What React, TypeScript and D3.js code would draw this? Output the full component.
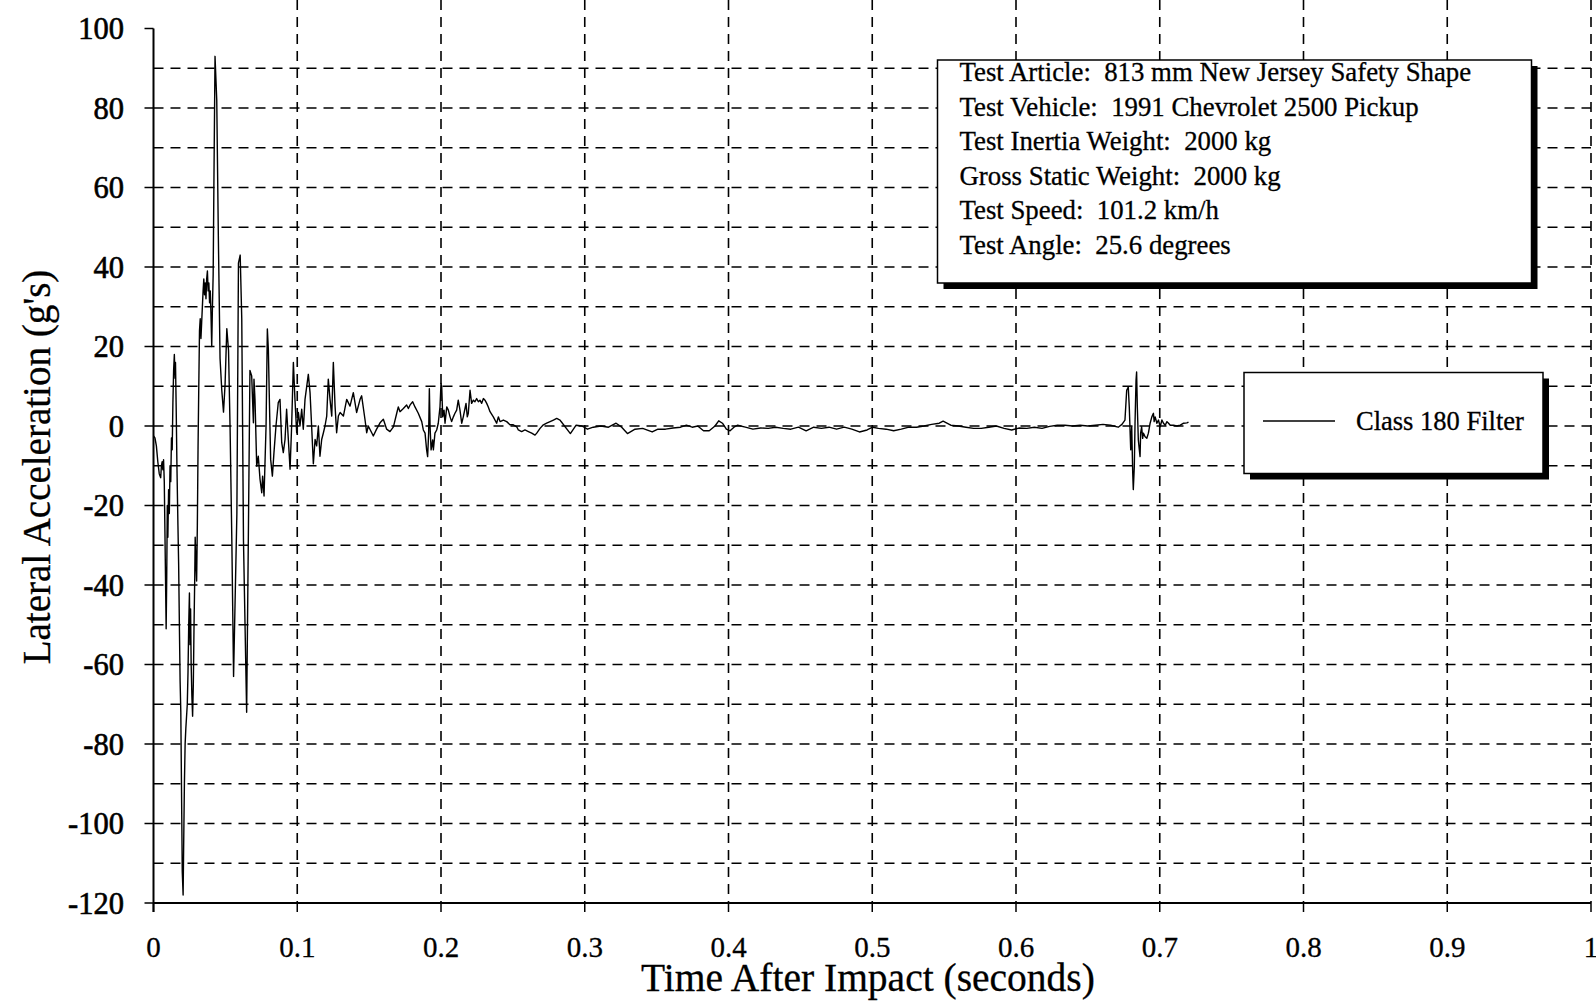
import React from "react";
import * as d3 from "d3";

// ---------- data (time in s, lateral acceleration in g) ----------
const impactPhase: [number, number][] = [
  [0, -2.5], [0.001, -3], [0.002, -5], [0.003, -9], [0.004, -12], [0.005, -13], [0.0055, -10], [0.006, -9],
  [0.0065, -11], [0.007, -8.5], [0.0075, -14], [0.008, -28], [0.0088, -51], [0.0092, -38], [0.0096, -20],
  [0.01, -28], [0.0105, -16], [0.011, -22], [0.0115, -10], [0.012, -14], [0.0125, -3], [0.013, -6],
  [0.0135, 6], [0.014, 14], [0.0145, 18], [0.015, 12], [0.0153, 16], [0.0158, 4], [0.0163, -10],
  [0.017, -25], [0.0175, -35], [0.018, -50], [0.0185, -64], [0.019, -72], [0.0195, -92], [0.02, -112],
  [0.0206, -118], [0.021, -105], [0.0215, -90], [0.022, -80], [0.0225, -76], [0.023, -73], [0.0235, -70],
  [0.024, -62], [0.0245, -50], [0.025, -42], [0.0254, -55], [0.0258, -46], [0.0262, -60], [0.0267, -68],
  [0.0272, -73], [0.0277, -65], [0.0282, -50], [0.0287, -38], [0.029, -28], [0.0295, -34], [0.03, -39],
  [0.0305, -25], [0.031, -5], [0.0315, 10], [0.032, 24], [0.0325, 27], [0.033, 22], [0.0335, 26],
  [0.034, 30], [0.0345, 34], [0.035, 37], [0.0355, 33], [0.036, 36], [0.0365, 32], [0.037, 37],
  [0.0375, 39], [0.038, 34], [0.0385, 36], [0.039, 31], [0.0395, 34], [0.04, 28], [0.0405, 20],
  [0.041, 30], [0.0415, 38], [0.042, 60], [0.0428, 93], [0.044, 82], [0.0451, 48], [0.0463, 17],
  [0.0475, 9], [0.0487, 3.5], [0.0498, 10.5], [0.051, 24.5], [0.0522, 19], [0.0533, -1], [0.0545, -29],
  [0.0557, -63], [0.058, -22], [0.0591, 41], [0.0603, 43], [0.0614, 27], [0.0626, -29], [0.0648, -72],
  [0.0671, 14],
];

const reboundPhase: [number, number][] = [
  [0.0683, 12.6], [0.0695, 0.8], [0.0699, 11.8], [0.0706, 6.7], [0.0718, -10.1], [0.0729, -7.6],
  [0.0741, -13.4], [0.0753, -16.8], [0.0759, -12.6], [0.0769, -17.6], [0.0783, 0], [0.0792, 24.4],
  [0.0799, 19.3], [0.0806, 6.7], [0.0815, -8.4], [0.0827, -12.6], [0.0838, -6.7], [0.0852, 0],
  [0.0868, 5.9], [0.088, 6.7], [0.0892, -4.2], [0.0903, -6.7], [0.0915, -3.4], [0.0926, 4.2],
  [0.0938, -3.4], [0.095, -10.9], [0.0961, 0], [0.0973, 16], [0.0984, 6.7], [0.0996, -1.7],
  [0.1008, 3.4], [0.1019, 0], [0.1031, 4.2], [0.1042, -0.8], [0.1054, 6.7], [0.1077, 13],
  [0.1089, 8.4], [0.11, 0], [0.1112, -9.5], [0.1124, -3.4], [0.1135, -5], [0.1147, 0], [0.1158, -7.6],
  [0.117, -3.4], [0.1182, -1.7], [0.1193, 0], [0.1205, 2.5], [0.1216, 11.8], [0.1228, 6.7],
  [0.124, 2.5], [0.1251, 16], [0.1263, 5], [0.1274, -1.7], [0.1286, 2.5], [0.1298, 3.4],
  [0.1321, 2.5], [0.1344, 6.7], [0.1367, 5], [0.139, 8.4], [0.1413, 3.4], [0.1437, 6.7],
  [0.1448, 7.6], [0.1471, 1.7], [0.1483, -1.7], [0.1494, 0], [0.1518, -1.7], [0.1529, -2.5],
  [0.1552, -0.8], [0.1576, 0.8], [0.1599, 1.7], [0.1622, -0.8],
];

const settlingPhase: [number, number][] = [
  [0.1645, -1.4], [0.1669, -0.2], [0.1692, 3.2], [0.1703, 4.8], [0.1715, 3.6], [0.1738, 4.4],
  [0.1761, 5.3], [0.1773, 4.4], [0.1785, 5.3], [0.1803, 6.1], [0.1819, 4.8], [0.1842, 3.2],
  [0.1866, 1.1], [0.1877, -1], [0.1889, -1.8], [0.19, -6], [0.1907, -7.7], [0.1914, -1.8],
  [0.1919, 9.4], [0.1924, -0.2], [0.1931, -6], [0.1935, -5.2], [0.1942, -3.5], [0.1947, -6],
  [0.1958, -1.8], [0.197, -1], [0.1981, 0.7], [0.1993, 4.8], [0.2, 10.7], [0.2005, 9.8],
  [0.2012, 2.3], [0.2021, 4], [0.2028, 0.7], [0.204, 4.8], [0.2051, 4], [0.2063, 2.3], [0.2074, 1.1],
  [0.2086, 2.3], [0.2097, 3.2], [0.2109, 4], [0.212, 6.5], [0.2132, 4], [0.2144, 0.7], [0.2155, 2.3],
  [0.2167, 4.4], [0.2174, 5.7], [0.2183, 2.3], [0.219, 3.2], [0.2202, 9], [0.2213, 5.7], [0.2225, 6.5],
  [0.2236, 6.1], [0.2248, 6.9], [0.226, 6.1], [0.2271, 6.5], [0.2283, 5.7], [0.2295, 6.9],
  [0.2306, 6.5], [0.2318, 5.7], [0.2329, 4.8], [0.2341, 3.6], [0.2364, 2.3], [0.2387, 0.7],
  [0.2399, 2.3], [0.2411, 1.1], [0.2434, 1.5], [0.2457, 1.1], [0.248, 0.3], [0.2503, 0.3],
  [0.2527, -0.2], [0.2538, -1], [0.2561, -1.4], [0.2584, -1], [0.2608, -1.4], [0.2631, -1.8],
  [0.2654, -2.3], [0.2666, -1.8], [0.2689, -0.6], [0.2712, 0.3], [0.2735, 0.7], [0.2759, 1.1],
  [0.2782, 1.5], [0.2805, 1.9], [0.2828, 1.5],
];

const quietPhase: [number, number][] = [
  [0.2834, 1.2], [0.29, -1.9], [0.294, 0.2], [0.298, 0], [0.3019, -0.8], [0.3059, -0.3], [0.3112, 0],
  [0.3165, -0.3], [0.3218, 0.7], [0.3257, -0.3], [0.3297, -1.9], [0.335, -0.8], [0.3403, -0.6],
  [0.3469, -1.5], [0.3509, -0.8], [0.3562, -0.8], [0.3614, -0.5], [0.3667, -0.3], [0.3707, 0.2],
  [0.3747, -0.3], [0.3786, 0], [0.3826, -1.2], [0.3866, -1.2], [0.3906, 0], [0.3932, 1.3],
  [0.3958, 0.7], [0.3985, -0.8], [0.4011, -1.2], [0.4038, -0.3], [0.4064, 0.2], [0.4117, -0.3],
  [0.417, -0.8], [0.4223, -0.5], [0.4276, -0.6], [0.4329, -0.3], [0.4381, -0.6], [0.4434, -0.8],
  [0.4487, -0.3], [0.454, -1.2], [0.4593, -0.3], [0.4646, -0.6], [0.4699, -0.3], [0.4752, -0.8],
  [0.4805, -0.3], [0.4858, -0.8], [0.4911, -1.5], [0.4964, -1], [0.5003, -0.3], [0.5043, -0.6],
  [0.5096, -0.8], [0.5149, -1.2], [0.5202, -0.8], [0.5255, -0.3], [0.5308, -0.3], [0.536, 0],
  [0.5413, 0.4], [0.5466, 0.7], [0.5493, 1.2], [0.5546, 0.2], [0.5599, 0], [0.5652, -0.3],
  [0.5705, -0.6], [0.5758, -0.6], [0.5811, -0.3], [0.5864, 0], [0.5917, -0.6], [0.597, -1],
  [0.6023, -0.5], [0.6075, -0.6], [0.6128, -0.3], [0.6181, -0.6], [0.6234, -0.1], [0.6287, 0.2],
  [0.634, 0.2], [0.6393, 0], [0.6446, 0.2], [0.6499, 0], [0.6552, 0.2], [0.6605, 0.4],
  [0.6658, 0.2], [0.6711, -0.3], [0.6737, 0.4],
];

const tailSlapPhase: [number, number][] = [
  [0.6758, 1.5], [0.677, 9], [0.6781, 9.8], [0.6788, 4.8], [0.6798, -6], [0.6805, -0.2],
  [0.6812, -11.8], [0.6816, -16], [0.6823, -10.2], [0.6828, 0.7], [0.6835, 11.5], [0.6839, 13.6],
  [0.6844, 4.8], [0.6851, -3.5], [0.6858, -6], [0.6863, -7.7], [0.6867, -1.8], [0.6874, -0.2],
  [0.6881, -3.1], [0.6886, -1.8], [0.6898, -2.7], [0.691, -3.1], [0.6921, -1.8], [0.6933, 0.7],
  [0.6945, 2.3], [0.6956, 3.2], [0.6961, 1.1], [0.6968, 2.3], [0.698, 0.7], [0.6991, 1.5],
  [0.7003, -0.2], [0.7015, 1.5], [0.7026, 0.7], [0.7038, 0.2], [0.705, 1.1], [0.7061, 0.7],
  [0.7073, 0.2], [0.7096, 0.2], [0.7119, 0], [0.7143, 0.2], [0.7166, 0.7], [0.7189, 0.8], [0.72, 1],
];

const xTicks = [0, 0.1, 0.2, 0.3, 0.4, 0.5, 0.6, 0.7, 0.8, 0.9, 1];
const xTickLabels = ["0", "0.1", "0.2", "0.3", "0.4", "0.5", "0.6", "0.7", "0.8", "0.9", "1"];
const yTicks = [-120, -100, -80, -60, -40, -20, 0, 20, 40, 60, 80, 100];
const yGridLines = [-110, -100, -90, -80, -70, -60, -50, -40, -30, -20, -10, 0, 10, 20, 30, 40, 50, 60, 70, 80, 90];

const infoLines = [
  "Test Article:  813 mm New Jersey Safety Shape",
  "Test Vehicle:  1991 Chevrolet 2500 Pickup",
  "Test Inertia Weight:  2000 kg",
  "Gross Static Weight:  2000 kg",
  "Test Speed:  101.2 km/h",
  "Test Angle:  25.6 degrees",
];
const seriesName = "Class 180 Filter";
const xTitle = "Time After Impact (seconds)";
const yTitle = "Lateral Acceleration (g's)";

const FONT = "'Liberation Serif', 'Times New Roman', Times, serif";

export default function App() {
  const W = 1596;
  const H = 1003;
  const x = d3.scaleLinear().domain([0, 1]).range([153.5, 1591]);
  const y = d3.scaleLinear().domain([-120, 100]).range([903, 28.5]);
  const trace = [...impactPhase, ...reboundPhase, ...settlingPhase, ...quietPhase, ...tailSlapPhase];
  const line = d3
    .line<[number, number]>()
    .x((d) => x(d[0]))
    .y((d) => y(d[1]));

  const dash = "10,7";
  const box1 = { x: 937.5, y: 60, w: 594, h: 223 };
  const box2 = { x: 1244, y: 372.5, w: 299, h: 101 };

  return (
    <svg
      width={W}
      height={H}
      style={{ position: "absolute", left: 0, top: 0, background: "#fff" }}
      fontFamily={FONT}
    >
      <rect x={0} y={0} width={W} height={H} fill="#fff" />
      {/* vertical grid */}
      {xTicks.slice(1).map((t) => (
        <line key={"vg" + t} x1={x(t)} x2={x(t)} y1={0} y2={y(-120)} stroke="#000" strokeWidth={1.6} strokeDasharray={dash} />
      ))}
      {/* horizontal grid */}
      {yGridLines.map((v) => (
        <line key={"hg" + v} x1={x(0)} x2={x(1)} y1={y(v)} y2={y(v)} stroke="#000" strokeWidth={1.6} strokeDasharray={dash} />
      ))}
      {/* axes */}
      <line x1={x(0)} x2={x(0)} y1={y(100)} y2={y(-120) + 9} stroke="#000" strokeWidth={2} />
      <line x1={x(0)} x2={x(1)} y1={y(-120)} y2={y(-120)} stroke="#000" strokeWidth={2} />
      {/* y ticks */}
      {yTicks.map((v) => (
        <line key={"yt" + v} x1={x(0) - 9} x2={x(0)} y1={y(v)} y2={y(v)} stroke="#000" strokeWidth={1.5} />
      ))}
      {yTicks.map((v) => (
        <text key={"yl" + v} x={124} y={y(v)} dy="0.35em" textAnchor="end" fontSize={30.5} fill="#000" stroke="#000" strokeWidth={0.6}>
          {v}
        </text>
      ))}
      {/* x ticks */}
      {xTicks.map((t) => (
        <line key={"xt" + t} x1={x(t)} x2={x(t)} y1={y(-120)} y2={y(-120) + 9} stroke="#000" strokeWidth={1.5} />
      ))}
      {xTicks.map((t, i) => (
        <text key={"xl" + t} x={x(t)} y={957} textAnchor="middle" fontSize={29} fill="#000" stroke="#000" strokeWidth={0.3}>
          {xTickLabels[i]}
        </text>
      ))}
      {/* titles */}
      <text x={868} y={991} textAnchor="middle" fontSize={39.5} fill="#000" stroke="#000" strokeWidth={0.3}>
        {xTitle}
      </text>
      <text transform="translate(36,467) rotate(-90)" textAnchor="middle" dy="0.35em" fontSize={39} fill="#000" stroke="#000" strokeWidth={0.3}>
        {yTitle}
      </text>
      {/* data trace */}
      <path d={line(trace) || ""} fill="none" stroke="#000" strokeWidth={1.4} strokeLinejoin="round" />
      {/* info box */}
      <rect x={box1.x + 6} y={box1.y + 6} width={box1.w} height={box1.h} fill="#000" />
      <rect x={box1.x} y={box1.y} width={box1.w} height={box1.h} fill="#fff" stroke="#000" strokeWidth={1.5} />
      {infoLines.map((s, i) => (
        <text key={"il" + i} x={959.5} y={81 + i * 34.6} fontSize={26.8} fill="#000" stroke="#000" strokeWidth={0.3} style={{ whiteSpace: "pre" }}>
          {s}
        </text>
      ))}
      {/* legend box */}
      <rect x={box2.x + 6} y={box2.y + 6} width={box2.w} height={box2.h} fill="#000" />
      <rect x={box2.x} y={box2.y} width={box2.w} height={box2.h} fill="#fff" stroke="#000" strokeWidth={1.5} />
      <line x1={1263} x2={1335} y1={421} y2={421} stroke="#000" strokeWidth={1.3} />
      <text x={1356} y={430} fontSize={26.5} fill="#000" stroke="#000" strokeWidth={0.3}>
        {seriesName}
      </text>
    </svg>
  );
}
